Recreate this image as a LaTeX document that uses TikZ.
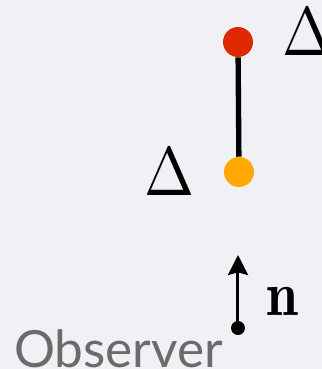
\documentclass[tikz,border=0pt]{standalone}
\usepackage{fontspec}
\usetikzlibrary{arrows.meta, positioning}
\newfontfamily\obsfont{Lato}
\definecolor{bgGrey}{HTML}{F0F1F5}
\definecolor{dotRed}{HTML}{E02800}
\definecolor{dotOrange}{HTML}{FFA800}
\definecolor{textGrey}{HTML}{6B6B6B}
\tikzset{
  dot/.style={circle, inner sep=0pt, minimum size=22.5pt},
  smalldot/.style={circle, fill=black, inner sep=0pt, minimum size=10.5pt},
  deltalabel/.style={inner sep=0pt, xscale=4.5, yscale=5.15},
}
\begin{document}
\begin{tikzpicture}[x=0.75pt, y=-0.75pt]
    % Hintergrund
    \fill[bgGrey] (0, 0) rectangle (322, 369);
    \useasboundingbox (0, 0) rectangle (322, 369);

    % Punkte
    \node[dot, fill=dotRed] (top) at (238, 42) {};
    \node[dot, fill=dotOrange] (bottom) at (239, 172) {};
    \draw[line width=4pt] (top) -- (bottom);

    % Deltas
    \node[deltalabel] (dleft) at (170, 172) {$\Delta$};
    \node[deltalabel] (dright) at (308, 32) {$\Delta$};

    % Beobachter
    \node[smalldot] (obs) at (238, 328) {};
    \coordinate (ntip) at (238, 255);
    \draw[line width=2.25pt, -{Stealth[length=15pt, width=15pt, inset=2pt]}] (obs.center) -- (ntip);
    \node[inner sep=0pt, xscale=4.3, yscale=4.7] (nlabel) at (282, 301) {$\mathbf{n}$};
    \node[anchor=base west, inner sep=0pt, text=textGrey, font=\obsfont\fontsize{38.5}{40}\selectfont] (observer) at (14, 367) {Observer};
\end{tikzpicture}
\end{document}
